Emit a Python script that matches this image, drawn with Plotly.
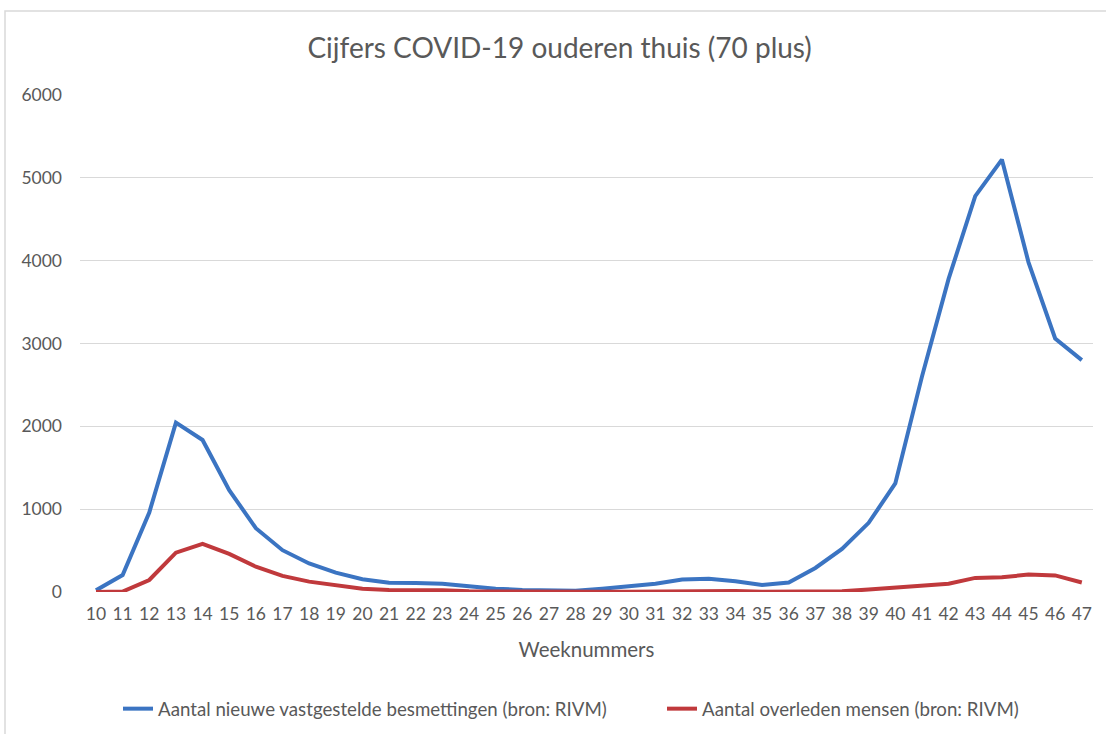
import plotly.graph_objects as go

weeks = list(range(10, 48))
besmettingen = [20, 205, 960, 2045, 1835, 1230, 770, 505, 345, 233, 155, 112,
                110, 100, 70, 40, 25, 15, 15, 40, 70, 100, 150, 160, 130, 85,
                115, 290, 520, 835, 1310, 2600, 3780, 4780, 5220, 3980, 3060, 2800]
overleden = [0, 5, 145, 475, 580, 460, 305, 195, 125, 85, 40, 25,
             25, 20, 8, 5, 5, 3, 3, 3, 3, 5, 8, 15, 12, 3,
             8, 8, 8, 30, 50, 72, 100, 170, 178, 210, 200, 115]
tick_labels = [str(w) for w in weeks]

name_a = "Aantal nieuwe vastgestelde besmettingen (bron: RIVM)"
name_b = "Aantal overleden mensen (bron: RIVM)"

FONT = "Lato"
GREY = "#595959"

fig = go.Figure()
fig.add_trace(go.Scatter(x=weeks, y=besmettingen, mode="lines", name=name_a,
                         line=dict(color="#3b74c2", width=4), legend="legend"))
fig.add_trace(go.Scatter(x=weeks, y=overleden, mode="lines", name=name_b,
                         line=dict(color="#c0393c", width=4), legend="legend2"))

legend_common = dict(orientation="h", xref="container", xanchor="left",
                     yref="container", y=1 - 709 / 734, yanchor="middle",
                     font=dict(family=FONT, size=18.7, color=GREY),
                     bgcolor="rgba(0,0,0,0)")

fig.update_layout(
    width=1106, height=734,
    margin=dict(l=80, r=13, t=95, b=142),
    paper_bgcolor="white", plot_bgcolor="white",
    font=dict(family=FONT, color=GREY, size=17.5),
    title=dict(text="Cijfers COVID-19 ouderen thuis (70 plus)",
               x=0.506, xref="container", y=1 - 48 / 734, yref="container",
               xanchor="center", yanchor="middle",
               font=dict(family=FONT, size=28, color=GREY)),
    xaxis=dict(range=[9.4, 47.42], tickmode="array", tickvals=weeks, ticktext=tick_labels,
               showgrid=False, zeroline=False, showline=False, ticks="",
               tickfont=dict(size=17.5, color=GREY), ticklabelstandoff=9,
               title=dict(text="Weeknummers", font=dict(size=20.5, color=GREY), standoff=20)),
    yaxis=dict(range=[0, 6000], tickvals=[0, 1000, 2000, 3000, 4000, 5000, 6000],
               showgrid=True, gridcolor="#d9d9d9", gridwidth=1.3, zeroline=False,
               showline=False, ticks="", tickfont=dict(size=17.5, color=GREY),
               ticklabelstandoff=17),
    legend=dict(x=118 / 1106, **legend_common),
    legend2=dict(x=662 / 1106, **legend_common),
    showlegend=True,
)

fig.add_shape(type="rect", xref="paper", yref="paper",
              x0=(5 - 80) / 1013, x1=1.05, y0=-0.35, y1=(592 - 11) / 497,
              line=dict(color="#d9d9d9", width=1.5), fillcolor="rgba(0,0,0,0)", layer="below")

fig.write_html("out.html", config={"displayModeBar": False},
               post_script="document.body.style.margin='0';")
